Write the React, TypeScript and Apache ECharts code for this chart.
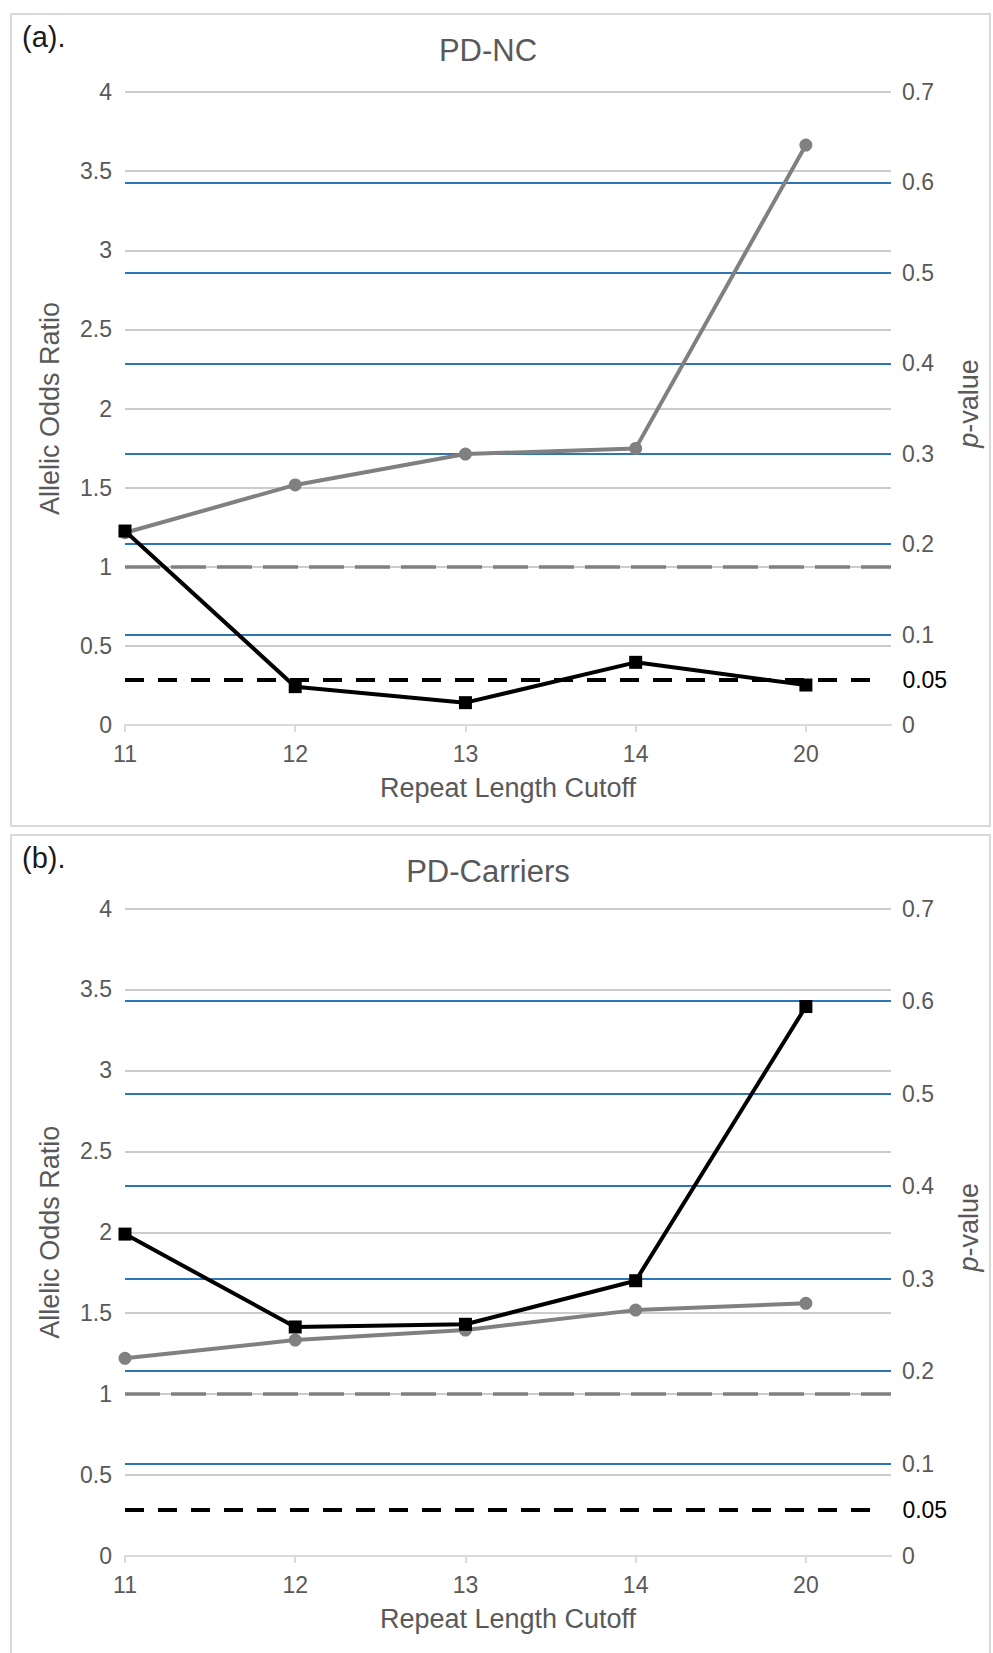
import React, { useEffect, useRef } from "react";
import * as echarts from "echarts";

// ---------- data ----------
const categories = ["11", "12", "13", "14", "20"];
const ncOddsRatio = [1.215, 1.517, 1.712, 1.748, 3.665];
const ncPValue = [0.2145, 0.0424, 0.0247, 0.0693, 0.0442];
const carOddsRatio = [1.221, 1.334, 1.396, 1.519, 1.561];
const carPValue = [0.348, 0.2476, 0.2505, 0.2976, 0.594];
const panelTitles = ["PD-NC", "PD-Carriers"];
const panelTags = ["(a).", "(b)."];
const orRefLine = 1;
const pRefLine = 0.05;

const FONT = "'Liberation Sans', Arial, sans-serif";
const GRAY_TXT = "#595959";
const TICK_FS = 23;

export default function App() {
  const ref = useRef<HTMLDivElement>(null);

  useEffect(() => {
    if (!ref.current) return;
    const chart = echarts.init(ref.current, undefined, { renderer: "svg" });

    const grids = [
      { left: 125, top: 92, width: 766, height: 633 },
      { left: 125, top: 908.5, width: 766, height: 647.5 },
    ];
    const idx = categories.map((_, i) => i);

    const xAxes = grids.map((_, g) => ({
      type: "value",
      gridIndex: g,
      min: 0,
      max: 4.5,
      interval: 1,
      axisLine: { show: true, onZero: false, lineStyle: { color: "#d9d9d9", width: 2 } },
      axisTick: {
        show: true,
        length: 7,
        customValues: idx,
        lineStyle: { color: "#d9d9d9", width: 2 },
      },
      axisLabel: {
        customValues: idx,
        formatter: (v: number) => categories[v] ?? "",
        color: GRAY_TXT,
        fontSize: TICK_FS,
        fontFamily: FONT,
        margin: 17,
      },
      splitLine: { show: false },
    }));

    const yAxes: any[] = [];
    grids.forEach((_, g) => {
      yAxes.push({
        type: "value",
        gridIndex: g,
        position: "left",
        min: 0,
        max: 4,
        interval: 0.5,
        axisLine: { show: false },
        axisTick: { show: false },
        axisLabel: { color: GRAY_TXT, fontSize: TICK_FS, fontFamily: FONT, margin: 13 },
        splitLine: { show: true, lineStyle: { color: "#cccccc", width: 2 } },
      });
      yAxes.push({
        type: "value",
        gridIndex: g,
        position: "right",
        min: 0,
        max: 0.7,
        interval: 0.1,
        axisLine: { show: false },
        axisTick: { show: false },
        axisLabel: {
          color: GRAY_TXT,
          fontSize: TICK_FS,
          fontFamily: FONT,
          margin: 11,
          formatter: (v: number) => String(Number(v.toFixed(2))),
        },
        splitLine: {
          show: true,
          showMinLine: false,
          showMaxLine: false,
          lineStyle: { color: "#2e75b6", width: 2 },
        },
      });
    });

    const orSets = [ncOddsRatio, carOddsRatio];
    const pSets = [ncPValue, carPValue];
    const series: any[] = [];
    grids.forEach((_, g) => {
      series.push({
        type: "line",
        xAxisIndex: g,
        yAxisIndex: g * 2,
        data: orSets[g].map((v, i) => [i, v]),
        symbol: "circle",
        symbolSize: 13,
        lineStyle: { color: "#808080", width: 4 },
        itemStyle: { color: "#808080" },
        z: 3,
        markLine: {
          silent: true,
          symbol: ["none", "none"],
          label: { show: false },
          lineStyle: { color: "#808080", width: 3.5, type: [35, 11] },
          data: [{ yAxis: orRefLine }],
        },
      });
      series.push({
        type: "line",
        xAxisIndex: g,
        yAxisIndex: g * 2 + 1,
        data: pSets[g].map((v, i) => [i, v]),
        symbol: "rect",
        symbolSize: 13,
        lineStyle: { color: "#000000", width: 4 },
        itemStyle: { color: "#000000" },
        z: 4,
        markLine: {
          silent: true,
          symbol: ["none", "none"],
          lineStyle: { color: "#000000", width: 4, type: [19, 14] },
          label: {
            show: true,
            position: "end",
            distance: 25,
            formatter: String(pRefLine),
            color: "#000000",
            fontSize: TICK_FS,
            fontFamily: FONT,
          },
          data: [
            [
              { coord: [0, pRefLine] },
              { coord: [4.42, pRefLine] },
            ],
          ],
        },
      });
    });

    const graphics: any[] = [];
    const panelBoxes = [
      { y: 14, h: 812 },
      { y: 835, h: 830 },
    ];
    panelBoxes.forEach((b, g) => {
      graphics.push({
        type: "rect",
        shape: { x: 11, y: b.y, width: 979, height: b.h },
        style: { fill: "none", stroke: "#d9d9d9", lineWidth: 2 },
        silent: true,
        z: -10,
      });
      const gr = grids[g];
      const midY = gr.top + gr.height / 2;
      const bottom = gr.top + gr.height;
      graphics.push({
        type: "text",
        x: 22,
        y: b.y + 23,
        style: {
          text: panelTags[g],
          fontSize: 29,
          fontFamily: FONT,
          fill: "#1a1a1a",
          align: "left",
          verticalAlign: "middle",
        },
      });
      graphics.push({
        type: "text",
        x: 488,
        y: b.y + 36,
        style: {
          text: panelTitles[g],
          fontSize: 31,
          fontFamily: FONT,
          fill: GRAY_TXT,
          align: "center",
          verticalAlign: "middle",
        },
      });
      graphics.push({
        type: "text",
        x: 50,
        y: midY,
        rotation: Math.PI / 2,
        style: {
          text: "Allelic Odds Ratio",
          fontSize: 27,
          fontFamily: FONT,
          fill: GRAY_TXT,
          align: "center",
          verticalAlign: "middle",
        },
      });
      graphics.push({
        type: "text",
        x: 969,
        y: midY - 5,
        rotation: Math.PI / 2,
        style: {
          text: "{i|p}-value",
          fontSize: 27,
          fontFamily: FONT,
          fill: GRAY_TXT,
          align: "center",
          verticalAlign: "middle",
          rich: {
            i: { fontStyle: "italic", fontSize: 27, fontFamily: FONT, fill: GRAY_TXT },
          },
        },
      });
      graphics.push({
        type: "text",
        x: 508,
        y: bottom + 63,
        style: {
          text: "Repeat Length Cutoff",
          fontSize: 27,
          fontFamily: FONT,
          fill: GRAY_TXT,
          align: "center",
          verticalAlign: "middle",
        },
      });
    });

    chart.setOption({
      animation: false,
      backgroundColor: "#ffffff",
      grid: grids,
      xAxis: xAxes,
      yAxis: yAxes,
      series,
      graphic: graphics,
    });

    return () => chart.dispose();
  }, []);

  return (
    <div
      ref={ref}
      style={{ position: "absolute", left: 0, top: 0, width: 993, height: 1653 }}
    />
  );
}
